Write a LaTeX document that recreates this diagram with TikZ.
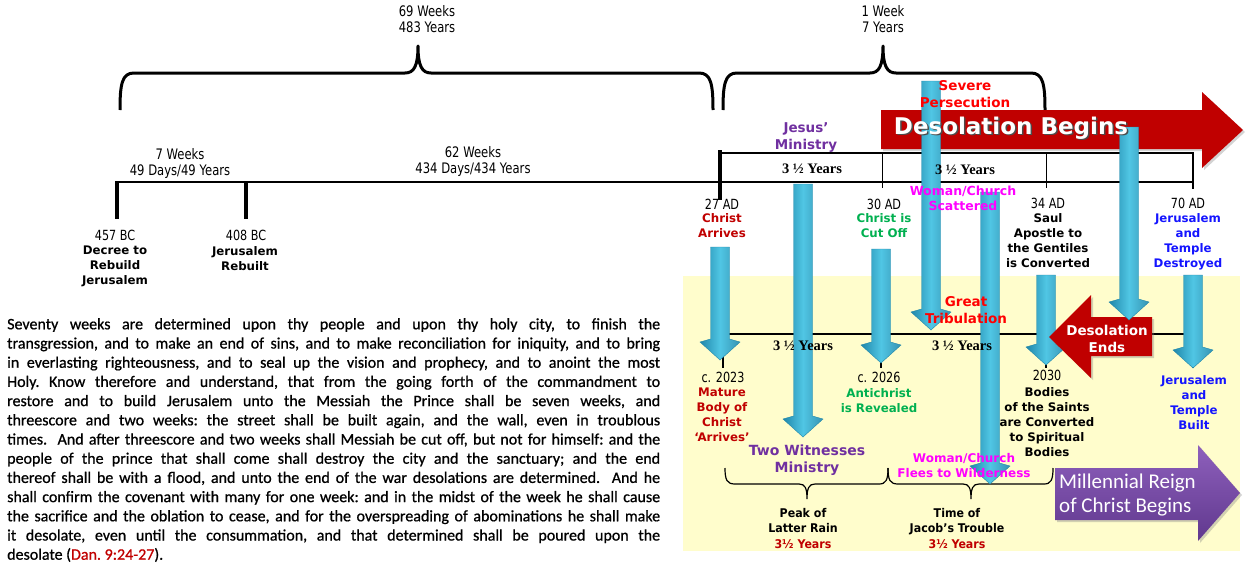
\documentclass[tikz,border=0pt]{standalone}
\usepackage{fontspec}
\setmainfont{Carlito}
\newfontfamily\versefont[FakeBold=0.8]{Carlito}
\newfontfamily\cond[FakeStretch=0.8]{DejaVu Sans}
\newfontfamily\vrd{DejaVu Sans}
\newfontfamily\vrdn[FakeStretch=0.92]{DejaVu Sans}
\newfontfamily\tms{Liberation Serif}
\usetikzlibrary{positioning,shadows}

\definecolor{redA}{RGB}{192,0,0}
\definecolor{redB}{RGB}{255,0,0}
\definecolor{greenA}{RGB}{0,176,80}
\definecolor{blueA}{RGB}{20,20,255}
\definecolor{magA}{RGB}{255,0,255}
\definecolor{purA}{RGB}{112,48,160}
\definecolor{paleY}{RGB}{255,253,204}
\definecolor{cyanL}{RGB}{80,198,228}
\definecolor{cyanD}{RGB}{32,135,170}
\definecolor{purL}{RGB}{142,96,188}
\definecolor{purD}{RGB}{96,56,142}

\tikzset{
  era/.style={font=\cond\fontsize{14.5}{16}\selectfont, align=center, inner sep=0pt},
  yr/.style={font=\cond\fontsize{14}{15}\selectfont, inner sep=0pt},
  evt/.style={font=\vrd\bfseries\fontsize{11.8}{15}\selectfont, align=center, inner sep=0pt, anchor=north},
  big/.style={font=\vrd\bfseries\fontsize{13.5}{17}\selectfont, align=center, inner sep=0pt, anchor=north},
  low/.style={font=\vrdn\bfseries\fontsize{12}{15.5}\selectfont, align=center, inner sep=0pt, anchor=north},
  half/.style={font=\tms\bfseries\fontsize{14.5}{15}\selectfont, inner sep=0pt},
  bigbrace/.style={line width=3pt, line join=round},
  smallbrace/.style={line width=1.2pt},
  dropfill/.style={left color=cyanD, right color=cyanD!90, middle color=cyanL, draw=cyanD, line width=0.4pt},
  redarrow/.style={fill=redA, drop shadow={opacity=0.35, shadow xshift=2pt, shadow yshift=-2pt}},
  purarrow/.style={top color=purL, bottom color=purD, drop shadow={opacity=0.35, shadow xshift=2pt, shadow yshift=-2pt}}
}

\begin{document}
\begin{tikzpicture}[x=1pt,y=-1pt]
    \useasboundingbox (0,0) rectangle (1253,565);
    % backdrop of the end-time half
    \fill[paleY] (683,276) rectangle (1240,551);

    % braces over the weeks
    \draw[bigbrace] (120,110) .. controls (120,84) and (122,73) .. (134,73) -- (405,73) .. controls (414,73) and (418,66) .. (418,46) .. controls (418,66) and (422,73) .. (431,73) -- (699,73) .. controls (711,73) and (713,84) .. (713,110);
    \draw[bigbrace] (723,110) .. controls (723,84) and (725,73) .. (737,73) -- (870,73) .. controls (879,73) and (883,66) .. (883,46) .. controls (883,66) and (887,73) .. (896,73) -- (1031,73) .. controls (1043,73) and (1045,84) .. (1045,110);

    % first timeline
    \draw[line width=2.5pt] (117,182) -- (1193,182);
    \draw[line width=3.5pt] (117,181) -- (117,219);
    \draw[line width=3.5pt] (246,181) -- (246,219);
    \draw[line width=3.5pt] (720,150) -- (720,200);
    \draw[line width=2.5pt] (720,153) -- (1193,153) -- (1193,189);
    \draw[line width=1pt] (882,153) -- (882,188);
    \draw[line width=1pt] (1046,153) -- (1046,188);

    % second timeline
    \draw[line width=1.2pt] (723,334) -- (1193,334);
    \foreach \x in {723,881,1046,1193} \draw[line width=1.5pt] (\x,334) -- (\x,368);

    \draw[smallbrace] (725,468) .. controls (725,480) and (727,484) .. (735,484) -- (799,484) .. controls (805,484) and (807,488) .. (807,499) .. controls (807,488) and (809,484) .. (815,484) -- (879,484) .. controls (886,484) and (888,480) .. (888,468);
    \draw[smallbrace] (888,468) .. controls (888,480) and (890,484) .. (898,484) -- (963,484) .. controls (969,484) and (971,488) .. (971,499) .. controls (971,488) and (973,484) .. (979,484) -- (1044,484) .. controls (1051,484) and (1053,480) .. (1053,468);

    % big arrows
    \fill[redarrow] (881,110) -- (1202,110) -- (1202,92) -- (1243,130) -- (1202,168) -- (1202,149) -- (881,149) -- cycle;
    \foreach \cx/\ty/\tp in {720/247/360, 803/184/437, 881/249/363, 931/81/330, 990/192/484, 1046/275/365, 1193/275/368}
        \path[dropfill] (\cx-9.5,\ty) -- (\cx+9.5,\ty) -- (\cx+9.5,\tp-21) -- (\cx+20,\tp-18) -- (\cx,\tp) -- (\cx-20,\tp-18) -- (\cx-9.5,\tp-21) -- cycle;
    \fill[redarrow] (1152,317) -- (1152,356) -- (1091,356) -- (1091,378) -- (1049,337) -- (1091,295) -- (1091,317) -- cycle;
    \path[dropfill] (1119.5,127) -- (1138.5,127) -- (1138.5,299) -- (1149,302) -- (1129,320) -- (1109,302) -- (1119.5,299) -- cycle;
    \path[purarrow] (1055,468) -- (1198,468) -- (1198,445) -- (1240,493) -- (1198,541) -- (1198,520) -- (1055,520) -- cycle;

    % spans
    \node[era] at (427,19)(w69) {69 Weeks\\483 Years};
    \node[era] at (883,19)(w1) {1 Week\\7 Years};
    \node[era] at (180,163)(w7) {7 Weeks\\49 Days/49 Years};
    \node[era] at (473,161)(w62) {62 Weeks\\434 Days/434 Years};
    \node[half] at (812,169)(h1) {3 ½ Years};
    \node[half] at (965,170)(h2) {3 ½ Years};
    \node[half] at (803,346)(h3) {3 ½ Years};
    \node[half] at (962,346)(h4) {3 ½ Years};

    % dates
    \node[yr] at (115,235)(d457) {457 BC};
    \node[yr] at (246,235)(d408) {408 BC};
    \node[yr] at (722,204)(d27) {27 AD};
    \node[yr] at (884,204)(d30) {30 AD};
    \node[yr] at (1048,203)(d34) {34 AD};
    \node[yr] at (1188,203)(d70) {70 AD};
    \node[yr] at (723,377)(d23) {c. 2023};
    \node[yr] at (879,377)(d26) {c. 2026};
    \node[yr] at (1047,375)(d30b) {2030};

    % events
    \node[evt] at (115,246)(decree) {Decree to\\Rebuild\\Jerusalem};
    \node[evt] at (245,246)(rebuilt) {Jerusalem\\Rebuilt};
    \node[evt, text=redA] at (722,213)(arrives) {Christ\\Arrives};
    \node[evt, text=greenA] at (884,213)(cutoff) {Christ is\\Cut Off};
    \node[evt] at (1048,213)(saul) {Saul\\Apostle to\\the Gentiles\\is Converted};
    \node[evt, text=blueA] at (1188,213)(destroyed) {Jerusalem\\and\\Temple\\Destroyed};
    \node[evt, text=redA] at (722,388)(mature) {Mature\\Body of\\Christ\\‘Arrives’};
    \node[evt, text=greenA] at (879,388)(antichrist) {Antichrist\\is Revealed};
    \node[evt] at (1047,387)(bodies) {Bodies\\of the Saints\\are Converted\\to Spiritual\\Bodies};
    \node[evt, text=blueA] at (1194,375)(built) {Jerusalem\\and\\Temple\\Built};

    \node[big, text=purA] at (806,122)(jesus) {Jesus’\\Ministry};
    \node[big, text=redB] at (965,80)(severe) {Severe\\Persecution};
    \node[big, text=magA, font=\vrd\bfseries\fontsize{12.5}{15}\selectfont] at (963,186)(scatter) {Woman/Church\\Scattered};
    \node[big, text=redB] at (966,296)(great) {Great\\Tribulation};
    \node[big, text=purA, font=\vrd\bfseries\fontsize{14}{17}\selectfont] at (807,445)(witness) {Two Witnesses\\Ministry};
    \node[big, text=magA, font=\vrd\bfseries\fontsize{12}{15}\selectfont] at (964,453)(flees) {Woman/Church\\Flees to Wilderness};
    \node[low] at (803,508)(peak) {Peak of\\Latter Rain\\\textcolor{redA}{3½ Years}};
    \node[low] at (957,508)(jacob) {Time of\\Jacob’s Trouble\\\textcolor{redA}{3½ Years}};

    % arrow texts
    \node[text=black!70, font=\vrd\bfseries\fontsize{23}{26}\selectfont] at (1012.5,129.5)(begS) {Desolation Begins};
    \node[text=white, font=\vrd\bfseries\fontsize{23}{26}\selectfont] at (1011,128)(begT) {Desolation Begins};
    \node[text=white, align=center, font=\vrd\bfseries\fontsize{13.5}{17}\selectfont] at (1107,339)(ends) {Desolation\\Ends};
    \node[text=white, align=left, anchor=north west, inner sep=0pt, font=\fontsize{21}{24}\selectfont] at (1059,474)(reign) {Millennial Reign\\of Christ Begins};

    % the prophecy
    \node[anchor=north west, inner sep=0pt, text width=653pt, align=justify, font=\versefont\fontsize{16}{19.2}\selectfont\frenchspacing] at (7,318)(prophecy) {Seventy weeks are determined upon thy people and upon thy holy city, to finish the\linebreak
    transgression, and to make an end of sins, and to make reconciliation for iniquity, and to bring\linebreak
    in everlasting righteousness, and to seal up the vision and prophecy, and to anoint the most\linebreak
    Holy. Know therefore and understand, that from the going forth of the commandment to\linebreak
    restore and to build Jerusalem unto the Messiah the Prince shall be seven weeks, and\linebreak
    threescore and two weeks: the street shall be built again, and the wall, even in troublous\linebreak
    times.\ \ And after threescore and two weeks shall Messiah be cut off, but not for himself: and the\linebreak
    people of the prince that shall come shall destroy the city and the sanctuary; and the end\linebreak
    thereof shall be with a flood, and unto the end of the war desolations are determined.\ \ And he\linebreak
    shall confirm the covenant with many for one week: and in the midst of the week he shall cause\linebreak
    the sacrifice and the oblation to cease, and for the overspreading of abominations he shall make\linebreak
    it desolate, even until the consummation, and that determined shall be poured upon the\linebreak
    desolate (\textcolor{redA}{Dan. 9:24-27}).};
\end{tikzpicture}
\end{document}
